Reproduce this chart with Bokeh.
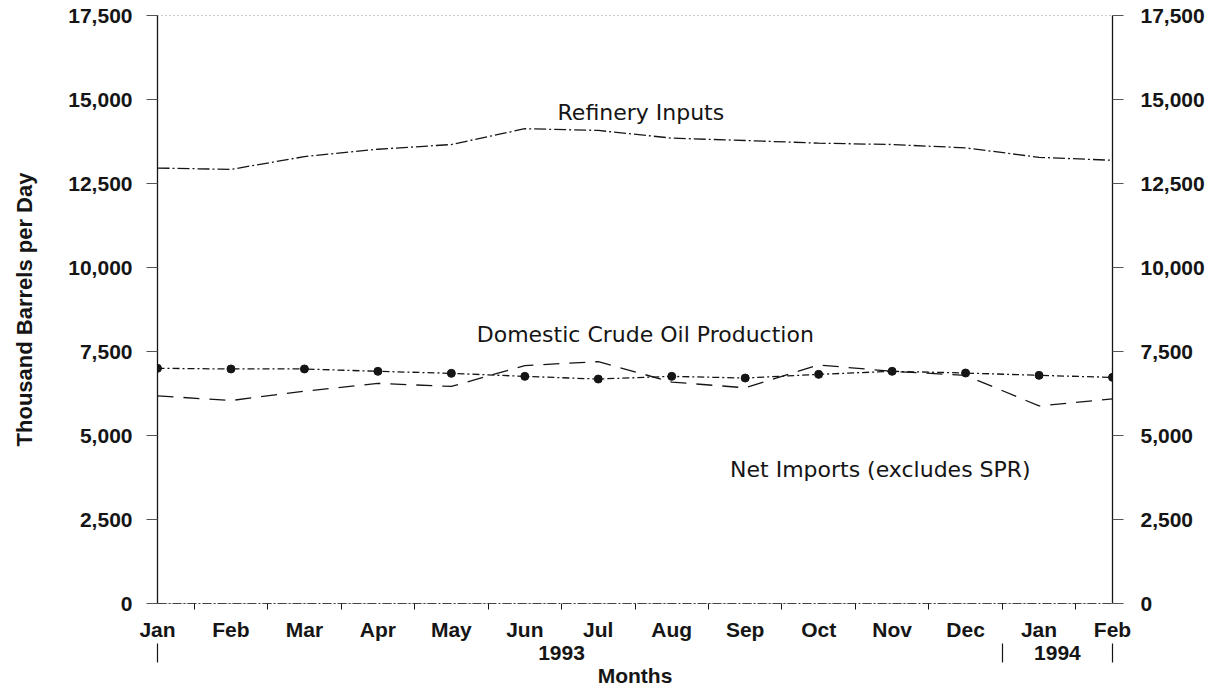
from bokeh.plotting import figure
from bokeh.models import Range1d, LinearAxis, FixedTicker, NumeralTickFormatter, Label
from bokeh.embed import file_html
from bokeh.resources import INLINE

# ---- data ----
months = ["Jan", "Feb", "Mar", "Apr", "May", "Jun", "Jul", "Aug",
          "Sep", "Oct", "Nov", "Dec", "Jan", "Feb"]
years = ["1993", "1994"]
refinery_inputs = [12960, 12920, 13300, 13520, 13660, 14130, 14080,
                   13850, 13780, 13700, 13660, 13560, 13280, 13190]
domestic_production = [7000, 6980, 6980, 6910, 6850, 6760, 6680,
                       6760, 6710, 6820, 6910, 6860, 6790, 6730]
net_imports = [6180, 6040, 6320, 6550, 6460, 7080, 7200,
               6590, 6420, 7100, 6910, 6790, 5880, 6090]
y_ticks = [0, 2500, 5000, 7500, 10000, 12500, 15000, 17500]
series_labels = ["Refinery Inputs", "Domestic Crude Oil Production",
                 "Net Imports (excludes SPR)"]

x = list(range(len(months)))
INK = "#151515"
BOLD_FONT = "Liberation Sans"
TXT_FONT = "DejaVu Sans"

p = figure(width=1222, height=689,
           min_border_left=157, min_border_right=110,
           min_border_top=15, min_border_bottom=86,
           x_range=Range1d(0, len(months) - 1), y_range=Range1d(0, 17500),
           x_axis_type=None, y_axis_type=None,
           output_backend="svg", toolbar_location=None)
p.xgrid.visible = False
p.ygrid.visible = False
p.outline_line_color = "#999999"
p.outline_line_dash = "1 3"
p.outline_line_width = 1
p.background_fill_color = "white"
p.border_fill_color = "white"

# ---- y axes ----
def y_axis(**kw):
    ax = LinearAxis(ticker=FixedTicker(ticks=y_ticks),
                    formatter=NumeralTickFormatter(format="0,0"), **kw)
    ax.axis_line_color = INK
    ax.axis_line_width = 1.3
    ax.major_tick_line_color = "#555555"
    ax.major_tick_line_width = 1
    ax.major_tick_out = 11
    ax.major_tick_in = 0
    ax.minor_tick_line_color = None
    ax.major_label_text_font = BOLD_FONT
    ax.major_label_text_font_style = "bold"
    ax.major_label_text_font_size = "21px"
    ax.major_label_text_color = INK
    return ax

left = y_axis(axis_label="Thousand Barrels per Day")
left.major_label_standoff = 14
left.axis_label_text_font = BOLD_FONT
left.axis_label_text_font_style = "bold"
left.axis_label_text_font_size = "22px"
left.axis_label_text_color = INK
left.axis_label_standoff = 28
p.add_layout(left, "left")

right = y_axis()
right.major_label_standoff = 17
p.add_layout(right, "right")

# ---- month axis ----
month_axis = LinearAxis(
    ticker=FixedTicker(ticks=x, minor_ticks=[i + 0.5 for i in x[:-1]]),
    major_label_overrides={i: m for i, m in zip(x, months)})
month_axis.axis_line_color = "#444444"
month_axis.axis_line_dash = "9 2 2 2"
month_axis.axis_line_width = 1.2
month_axis.major_tick_line_color = None
month_axis.major_tick_out = 0
month_axis.major_tick_in = 0
month_axis.minor_tick_line_color = INK
month_axis.minor_tick_line_width = 1
month_axis.minor_tick_out = 6
month_axis.minor_tick_in = 0
month_axis.major_label_standoff = 8
month_axis.major_label_text_font = BOLD_FONT
month_axis.major_label_text_font_style = "bold"
month_axis.major_label_text_font_size = "21px"
month_axis.major_label_text_color = INK
p.add_layout(month_axis, "below")

# ---- year axis: year labels, separators (minor ticks) and the x title ----
year_pos = [5.5, 12.25]
year_axis = LinearAxis(
    ticker=FixedTicker(ticks=year_pos, minor_ticks=[0, 11.5, len(months) - 1]),
    major_label_overrides={pos: yr for pos, yr in zip(year_pos, years)},
    axis_label="Months")
year_axis.axis_line_color = None
year_axis.major_tick_line_color = None
year_axis.major_tick_out = 0
year_axis.major_tick_in = 0
year_axis.minor_tick_line_color = INK
year_axis.minor_tick_line_width = 1.2
year_axis.minor_tick_in = 0
year_axis.minor_tick_out = 19
year_axis.major_label_standoff = -17
year_axis.major_label_text_font = BOLD_FONT
year_axis.major_label_text_font_style = "bold"
year_axis.major_label_text_font_size = "21px"
year_axis.major_label_text_color = INK
year_axis.axis_label_standoff = 1
year_axis.axis_label_text_font = BOLD_FONT
year_axis.axis_label_text_font_style = "bold"
year_axis.axis_label_text_font_size = "21px"
year_axis.axis_label_text_color = INK
p.add_layout(year_axis, "below")

# ---- series ----
p.line(x, refinery_inputs, line_color=INK, line_width=1.3, line_dash="12 3 2 3")
p.line(x, net_imports, line_color=INK, line_width=1.3, line_dash="16 10")
p.line(x, domestic_production, line_color=INK, line_width=1.3, line_dash="7 3 2 3")
p.scatter(x, domestic_production, marker="circle", size=8,
          fill_color=INK, line_color=INK)

# ---- series labels ----
label_pos = [(6.58, 14600), (6.64, 8000), (9.84, 3980)]
for text, (lx, ly) in zip(series_labels, label_pos):
    p.add_layout(Label(x=lx, y=ly, text=text, text_align="center",
                       text_baseline="middle", text_font=TXT_FONT,
                       text_font_size="22px", text_color=INK))

open("out.html", "w").write(file_html(p, INLINE))
